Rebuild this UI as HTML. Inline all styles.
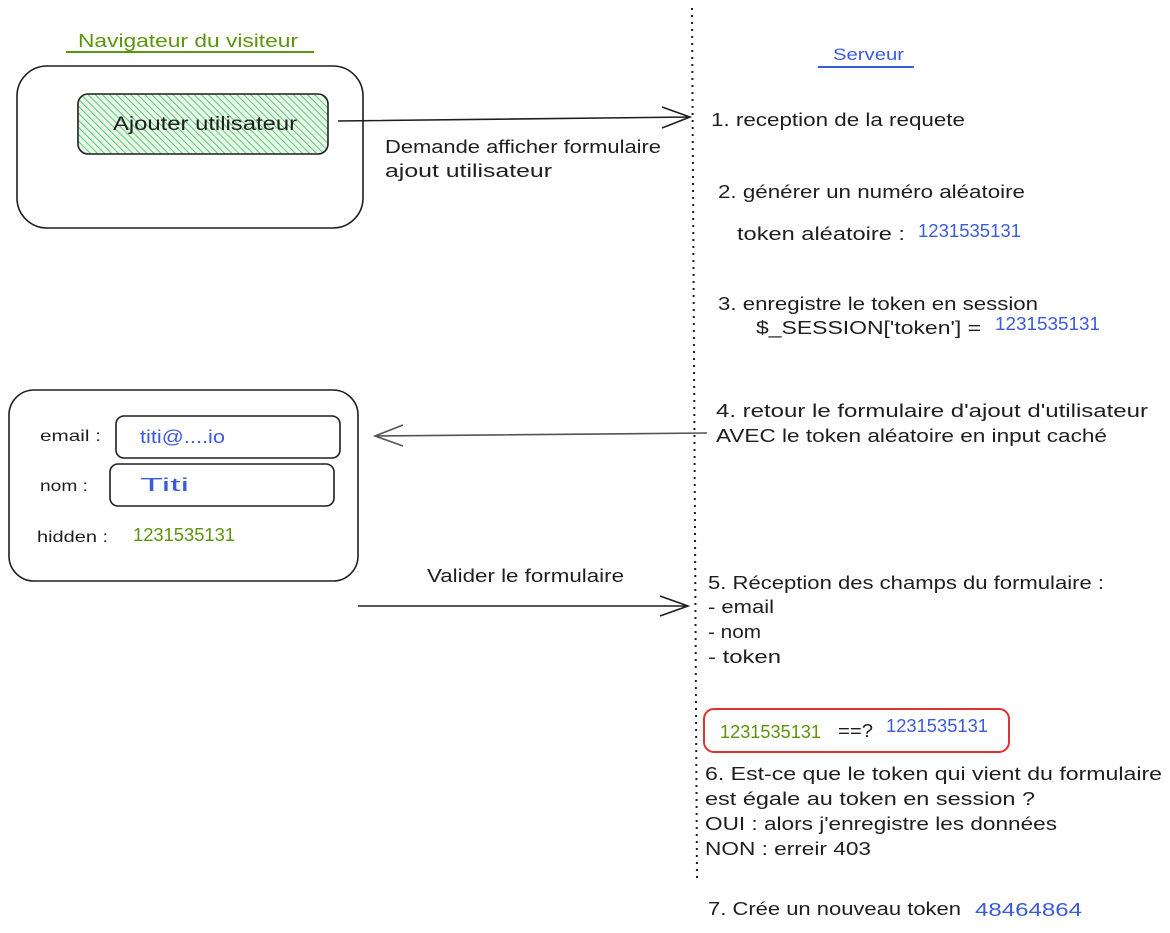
<!DOCTYPE html>
<html><head><meta charset="utf-8"><style>
html,body{margin:0;padding:0;background:#fff;}
svg{display:block;}
text{font-family:"Liberation Sans",sans-serif;font-size:18px;fill:#1e1e1e;}
.g{fill:#5c940d}.b{fill:#3b5bdb}
</style></head><body>
<svg width="1170" height="933" viewBox="0 0 1170 933" xmlns="http://www.w3.org/2000/svg">
<defs>
<pattern id="h" width="5" height="5" patternUnits="userSpaceOnUse" patternTransform="rotate(-45)">
<rect width="5" height="5" fill="#e6f6e9"/><line x1="0" y1="0" x2="0" y2="5" stroke="#40c057" stroke-width="1.6"/>
</pattern>
</defs>
<g fill="none" stroke="#1e1e1e" stroke-width="1.6">
<rect x="17" y="66" width="346" height="162" rx="30"/>
<rect x="78" y="94" width="250" height="60" rx="10" fill="url(#h)"/>
<rect x="9" y="390" width="349" height="191" rx="25"/>
<rect x="116" y="416" width="224" height="42" rx="8"/>
<rect x="110" y="464" width="224" height="42" rx="8"/>
<path d="M338 121 L690 117 M662 107 L690 117 L662 128"/>
<path d="M707 433 L375 436 M403 425 L375 436 L403 446" stroke="#555"/>
<path d="M358 606 L688 606 M660 596 L688 606 L660 616"/>
<line x1="692" y1="8" x2="697" y2="880" stroke-dasharray="2 5" stroke-width="2"/>
</g>
<line x1="66" y1="52" x2="314" y2="52" stroke="#5c940d" stroke-width="2"/>
<line x1="818" y1="67" x2="914" y2="67" stroke="#3b5bdb" stroke-width="2"/>
<rect x="704" y="709" width="305" height="43" rx="10" fill="none" stroke="#e03131" stroke-width="2"/>
<g lengthAdjust="spacingAndGlyphs">
<text class="g" x="78" y="47" textLength="220" lengthAdjust="spacingAndGlyphs" font-size="17">Navigateur du visiteur</text>
<text x="113" y="130" textLength="184" lengthAdjust="spacingAndGlyphs" style="font-size:19px">Ajouter utilisateur</text>
<text x="385" y="153" textLength="276" lengthAdjust="spacingAndGlyphs">Demande afficher formulaire</text>
<text x="385" y="177" textLength="167" lengthAdjust="spacingAndGlyphs">ajout utilisateur</text>
<text class="b" x="833" y="60" textLength="71" lengthAdjust="spacingAndGlyphs" style="font-size:17px">Serveur</text>
<text x="711" y="126" textLength="254" lengthAdjust="spacingAndGlyphs">1. reception de la requete</text>
<text x="718" y="198" textLength="307" lengthAdjust="spacingAndGlyphs">2. générer un numéro aléatoire</text>
<text x="737" y="240" textLength="168" lengthAdjust="spacingAndGlyphs">token aléatoire :</text>
<text class="b" x="918" y="237" textLength="103" lengthAdjust="spacingAndGlyphs">1231535131</text>
<text x="718" y="310" textLength="320" lengthAdjust="spacingAndGlyphs">3. enregistre le token en session</text>
<text x="756" y="334" textLength="225" lengthAdjust="spacingAndGlyphs">$_SESSION['token'] =</text>
<text class="b" x="995" y="330" textLength="105" lengthAdjust="spacingAndGlyphs">1231535131</text>
<text x="716" y="417" textLength="432" lengthAdjust="spacingAndGlyphs">4. retour le formulaire d'ajout d'utilisateur</text>
<text x="716" y="442" textLength="391" lengthAdjust="spacingAndGlyphs">AVEC le token aléatoire en input caché</text>
<text x="40" y="441" textLength="61" lengthAdjust="spacingAndGlyphs" style="font-size:16px">email :</text>
<text class="b" x="140" y="443" textLength="85" lengthAdjust="spacingAndGlyphs">titi@....io</text>
<text x="40" y="491" textLength="48" lengthAdjust="spacingAndGlyphs" style="font-size:16px">nom :</text>
<text class="b" x="140" y="491" textLength="49" lengthAdjust="spacingAndGlyphs">Titi</text>
<text x="37" y="542" textLength="71" lengthAdjust="spacingAndGlyphs" style="font-size:16px">hidden :</text>
<text class="g" x="133" y="541" textLength="102" lengthAdjust="spacingAndGlyphs">1231535131</text>
<text x="427" y="582" textLength="197" lengthAdjust="spacingAndGlyphs">Valider le formulaire</text>
<text x="708" y="589" textLength="396" lengthAdjust="spacingAndGlyphs">5. Réception des champs du formulaire :</text>
<text x="708" y="613" textLength="66" lengthAdjust="spacingAndGlyphs">- email</text>
<text x="708" y="638" textLength="53" lengthAdjust="spacingAndGlyphs">- nom</text>
<text x="708" y="663" textLength="73" lengthAdjust="spacingAndGlyphs">- token</text>
<text class="g" x="720" y="738" textLength="101" lengthAdjust="spacingAndGlyphs">1231535131</text>
<text x="838" y="737" textLength="35" lengthAdjust="spacingAndGlyphs">==?</text>
<text class="b" x="886" y="732" textLength="102" lengthAdjust="spacingAndGlyphs">1231535131</text>
<text x="705" y="780" textLength="457" lengthAdjust="spacingAndGlyphs">6. Est-ce que le token qui vient du formulaire</text>
<text x="705" y="805" textLength="330" lengthAdjust="spacingAndGlyphs">est égale au token en session ?</text>
<text x="705" y="830" textLength="352" lengthAdjust="spacingAndGlyphs">OUI : alors j'enregistre les données</text>
<text x="705" y="855" textLength="166" lengthAdjust="spacingAndGlyphs">NON : erreir 403</text>
<text x="708" y="915" textLength="253" lengthAdjust="spacingAndGlyphs">7. Crée un nouveau token</text>
<text class="b" x="975" y="916" textLength="107" lengthAdjust="spacingAndGlyphs">48464864</text>
</g>
</svg>
</body></html>
